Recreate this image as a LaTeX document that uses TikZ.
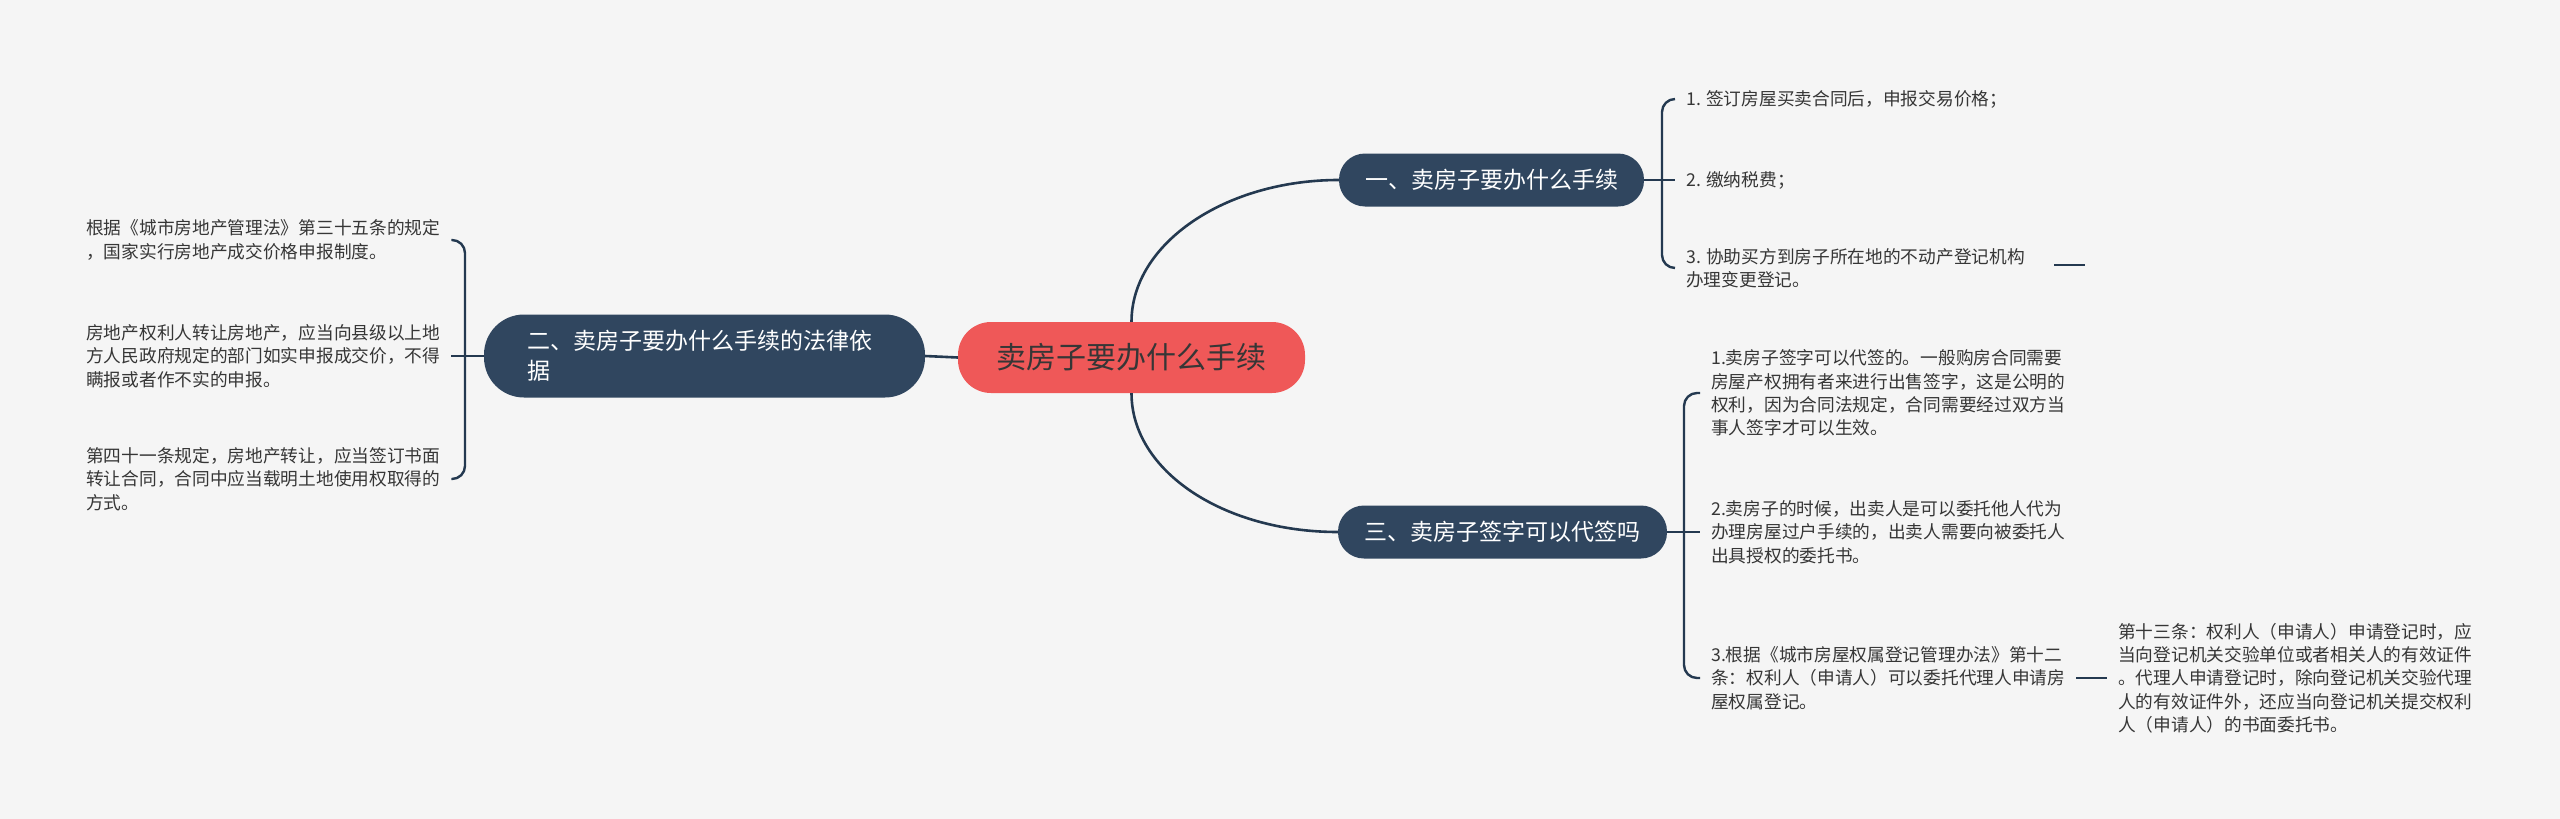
\documentclass[tikz,border=0pt]{standalone}
\usepackage{fontspec}
\setmainfont{Noto Sans CJK SC}
\definecolor{bgc}{HTML}{F5F5F5}
\definecolor{navy}{HTML}{30465F}
\definecolor{linec}{HTML}{243950}
\definecolor{rootred}{HTML}{EF5858}
\definecolor{txt}{HTML}{363636}
\begin{document}
\begin{tikzpicture}[x=1pt,y=-1pt,
  rootbox/.style={fill=rootred, text=txt, rounded corners=33pt, minimum width=347pt, minimum height=71pt, inner sep=0pt, font=\fontsize{30}{36}\selectfont},
  branch/.style={fill=navy, text=white, inner sep=0pt, font=\fontsize{23}{30}\selectfont},
  leaf/.style={text=txt, inner xsep=11pt, inner ysep=0pt, align=left, font=\fontsize{17.7}{23.3}\selectfont},
  conn/.style={draw=linec, line width=2.6pt},
  bracelink/.style={draw=linec, line width=2.4pt, rounded corners=13pt}
]
\fill[bgc] (0,0) rectangle (2560,819);
\useasboundingbox (0,0) rectangle (2560,819);

% central and main nodes
\node[rootbox] (root) at (1131.5,357.5) {卖房子要办什么手续};
\node[branch, minimum width=305pt, minimum height=53pt, rounded corners=26pt] (b1) at (1491.5,180) {一、卖房子要办什么手续};
\node[branch, text width=355pt, inner xsep=43pt, align=left, minimum height=83pt, rounded corners=40pt] (b2) at (704.5,356) {二、卖房子要办什么手续的法律依\\据};
\node[branch, minimum width=329pt, minimum height=53pt, rounded corners=26pt] (b3) at (1502.5,532) {三、卖房子签字可以代签吗};

% left leaves
\node[leaf, anchor=west] (l1) at (75,240) {根据《城市房地产管理法》第三十五条的规定\\，国家实行房地产成交价格申报制度。};
\node[leaf, anchor=west] (l2) at (75,356) {房地产权利人转让房地产，应当向县级以上地\\方人民政府规定的部门如实申报成交价，不得\\瞒报或者作不实的申报。};
\node[leaf, anchor=west] (l3) at (75,479) {第四十一条规定，房地产转让，应当签订书面\\转让合同，合同中应当载明土地使用权取得的\\方式。};

% right leaves of b1
\node[leaf, anchor=west] (r11) at (1675,99) {1. 签订房屋买卖合同后，申报交易价格；};
\node[leaf, anchor=west] (r12) at (1675,180) {2. 缴纳税费；};
\node[leaf, anchor=west] (r13) at (1675,268) {3. 协助买方到房子所在地的不动产登记机构\\办理变更登记。};

% right leaves of b3
\node[leaf, anchor=west] (r31) at (1700,393) {1.卖房子签字可以代签的。一般购房合同需要\\房屋产权拥有者来进行出售签字，这是公明的\\权利，因为合同法规定，合同需要经过双方当\\事人签字才可以生效。};
\node[leaf, anchor=west] (r32) at (1700,532) {2.卖房子的时候，出卖人是可以委托他人代为\\办理房屋过户手续的，出卖人需要向被委托人\\出具授权的委托书。};
\node[leaf, anchor=west] (r33) at (1700,678) {3.根据《城市房屋权属登记管理办法》第十二\\条：权利人（申请人）可以委托代理人申请房\\屋权属登记。};
\node[leaf, anchor=west] (r331) at (2107,678) {第十三条：权利人（申请人）申请登记时，应\\当向登记机关交验单位或者相关人的有效证件\\。代理人申请登记时，除向登记机关交验代理\\人的有效证件外，还应当向登记机关提交权利\\人（申请人）的书面委托书。};

% junction coordinates
\coordinate (j1) at (1662,180);
\coordinate (j2) at (465,356);
\coordinate (j3) at (1684,532);
\coordinate (s1) at (2054,265);
\coordinate (s2) at (2085,265);

% root connectors
\draw[conn] (root.west) -- (b2.east);
\draw[conn] (root.north) .. controls +(0,-78) and +(-114,0) .. (b1.west);
\draw[conn] (root.south) .. controls +(0,78) and +(-114,0) .. (b3.west);

% b1 children
\draw[conn] (b1.east) -- (j1);
\draw[bracelink] (j1) |- (r11.west);
\draw[conn] (j1) -- (r12.west);
\draw[bracelink] (j1) |- (r13.west);
\draw[conn] (s1) -- (s2);

% b2 children
\draw[conn] (b2.west) -- (j2);
\draw[bracelink] (j2) |- (l1.east);
\draw[conn] (j2) -- (l2.east);
\draw[bracelink] (j2) |- (l3.east);

% b3 children
\draw[conn] (b3.east) -- (j3);
\draw[bracelink] (j3) |- (r31.west);
\draw[conn] (j3) -- (r32.west);
\draw[bracelink] (j3) |- (r33.west);
\draw[conn] (r33.east) -- (r331.west);
\end{tikzpicture}
\end{document}
